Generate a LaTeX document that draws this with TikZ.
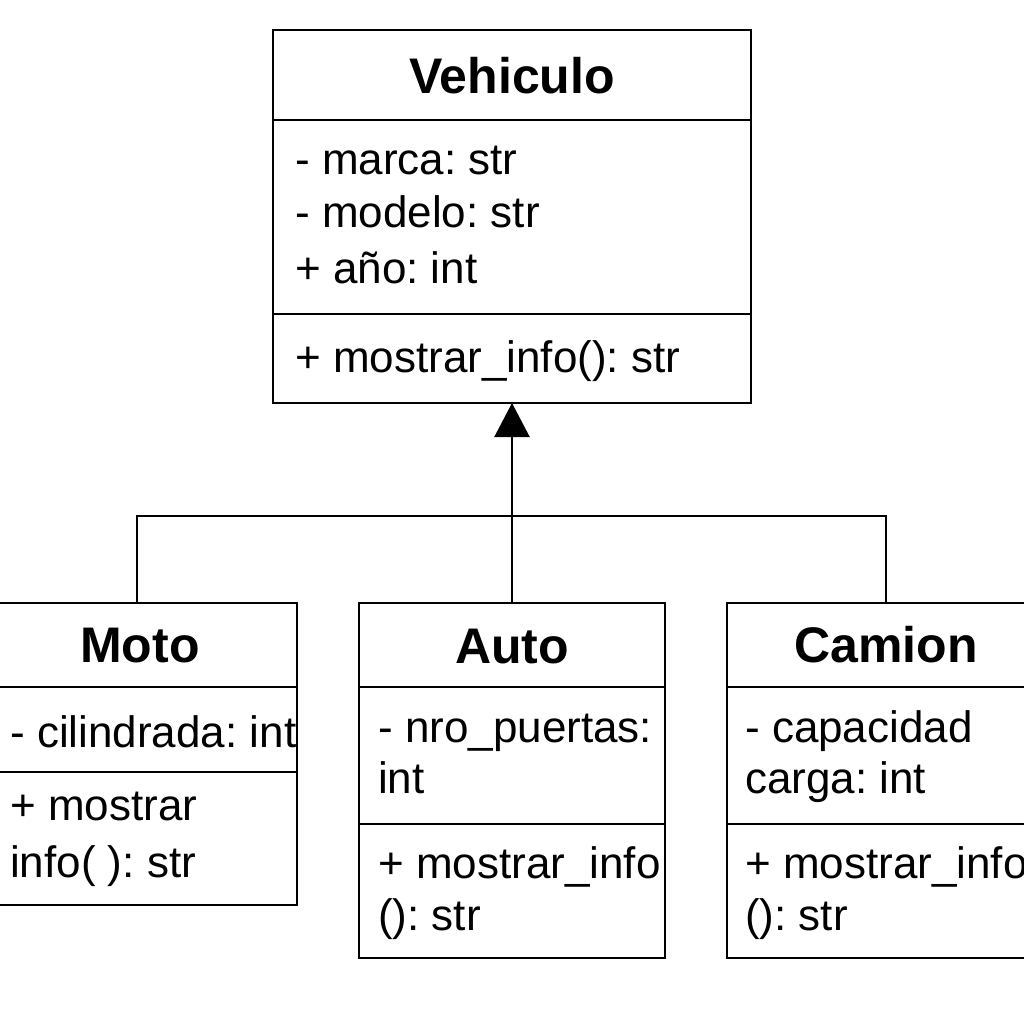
\documentclass[tikz,border=0pt]{standalone}
\usepackage{fontspec}
\setmainfont{Liberation Sans}
\usetikzlibrary{arrows.meta}
\frenchspacing
\begin{document}
\begin{tikzpicture}[x=1pt,y=-1pt,
  part/.style={draw=black, line width=2.5pt, anchor=north west, inner sep=0pt, outer sep=0pt},
  classname/.style={anchor=base, inner sep=0pt, font=\fontsize{50}{60}\selectfont\bfseries},
  member/.style={anchor=base west, inner sep=0pt, font=\fontsize{44}{53}\selectfont},
  link/.style={line width=2.2pt}]
\useasboundingbox (0,0) rectangle (1024,1024);
\fill[white] (0,0) rectangle (1024,1024);
\clip (0,0) rectangle (1024,1024);

% Vehiculo
\node[part, minimum width=478pt, minimum height=90pt]  (veh-h) at (273,30) {};
\node[part, minimum width=478pt, minimum height=194pt] (veh-a) at (273,120) {};
\node[part, minimum width=478pt, minimum height=89pt]  (veh-m) at (273,314) {};
\node[classname] (veh-t)  at (512,94)  {Vehiculo};
\node[member]    (veh-a1) at (295,175) {- marca: str};
\node[member]    (veh-a2) at (295,228) {- modelo: str};
\node[member]    (veh-a3) at (295,283) {+ año: int};
\node[member]    (veh-m1) at (295,372) {+ mostrar\_info(): str};

% Moto
\node[part, minimum width=320pt, minimum height=84pt]  (moto-h) at (-23,603) {};
\node[part, minimum width=320pt, minimum height=85pt]  (moto-a) at (-23,687) {};
\node[part, minimum width=320pt, minimum height=133pt] (moto-m) at (-23,772) {};
\node[classname] (moto-t)  at (140,662) {Moto};
\node[member]    (moto-a1) at (10,747)  {- cilindrada: int};
\node[member]    (moto-m1) at (10,820)  {+ mostrar};
\node[member]    (moto-m2) at (10,877)  {info( ): str};

% Auto
\node[part, minimum width=306pt, minimum height=84pt]  (auto-h) at (359,603) {};
\node[part, minimum width=306pt, minimum height=137pt] (auto-a) at (359,687) {};
\node[part, minimum width=306pt, minimum height=134pt] (auto-m) at (359,824) {};
\node[classname] (auto-t)  at (512,663) {Auto};
\node[member]    (auto-a1) at (378,742) {- nro\_puertas:};
\node[member]    (auto-a2) at (378,793) {int};
\node[member]    (auto-m1) at (378,878) {+ mostrar\_info};
\node[member]    (auto-m2) at (378,930) {(): str};

% Camion
\node[part, minimum width=318pt, minimum height=84pt]  (cam-h) at (727,603) {};
\node[part, minimum width=318pt, minimum height=137pt] (cam-a) at (727,687) {};
\node[part, minimum width=318pt, minimum height=134pt] (cam-m) at (727,824) {};
\node[classname] (cam-t)  at (886,662) {Camion};
\node[member]    (cam-a1) at (745,742) {- capacidad};
\node[member]    (cam-a2) at (745,793) {carga: int};
\node[member]    (cam-m1) at (745,878) {+ mostrar\_info};
\node[member]    (cam-m2) at (745,930) {(): str};

% Inheritance
\coordinate (bus) at (512,516);
\draw[link] (moto-h.north) |- (bus) -| (cam-h.north);
\draw[link, -{Triangle[width=35pt, length=34pt]}] (auto-h.north) -- (veh-m.south);
\end{tikzpicture}
\end{document}
